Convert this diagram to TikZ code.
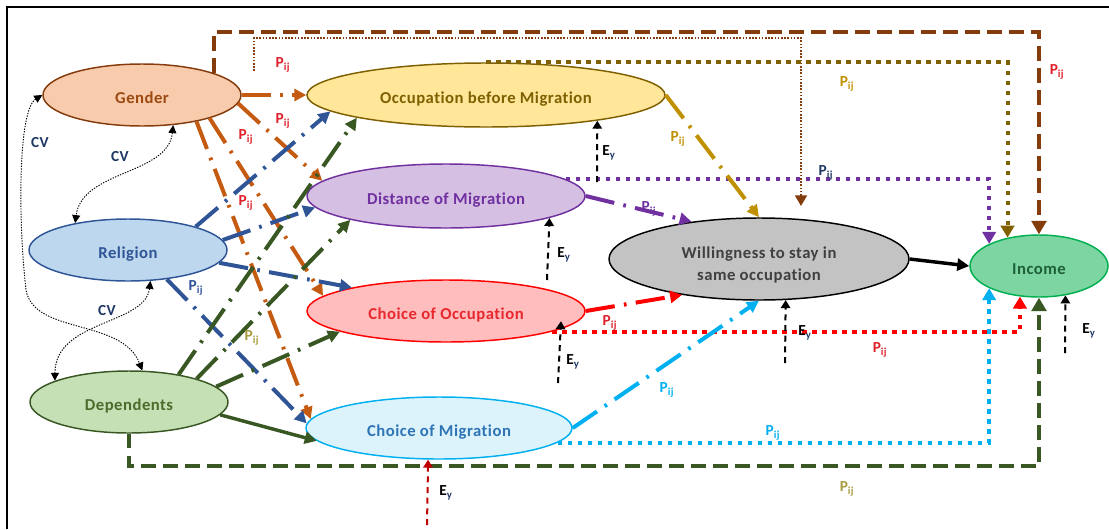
\documentclass[tikz,border=0pt]{standalone}
\usepackage{fontspec}
\setmainfont{Carlito}[LetterSpace=3,Ligatures=NoCommon]
\usetikzlibrary{arrows.meta,shapes.geometric}
\definecolor{gfill}{HTML}{F8CBAD}\definecolor{gdraw}{HTML}{843C0C}\definecolor{gtext}{HTML}{9C4A12}
\definecolor{cor}{HTML}{C55A11}
\definecolor{occfill}{HTML}{FFE699}\definecolor{occdraw}{HTML}{7F6000}
\definecolor{relfill}{HTML}{BDD7EE}\definecolor{relblue}{HTML}{2F5597}
\definecolor{distfill}{HTML}{D5C0E3}\definecolor{cpurple}{HTML}{7030A0}
\definecolor{depfill}{HTML}{C5E0B4}\definecolor{dgreen}{HTML}{385723}\definecolor{deptext}{HTML}{4E6B2E}
\definecolor{chofill}{HTML}{FFBDBD}\definecolor{cred}{HTML}{FF0000}\definecolor{chotext}{HTML}{E8282F}
\definecolor{cmfill}{HTML}{DDF3FC}\definecolor{ccyan}{HTML}{00B0F0}\definecolor{cmtext}{HTML}{2E75B6}
\definecolor{willfill}{HTML}{C3C3C3}\definecolor{willtext}{HTML}{404040}
\definecolor{incfill}{HTML}{7DD5A2}\definecolor{incdraw}{HTML}{00B050}\definecolor{inctext}{HTML}{1E5F3A}
\definecolor{cgold}{HTML}{BF9000}\definecolor{colive}{HTML}{806000}
\definecolor{plabred}{HTML}{E0202A}\definecolor{plabolive}{HTML}{A89A3C}\definecolor{navy}{HTML}{1F3864}
\definecolor{eyred}{HTML}{C00000}
\newcommand{\pij}{P\textsubscript{ij}}
\newcommand{\eyl}{E\textsubscript{\color{navy}y}}
\begin{document}
\begin{tikzpicture}[x=0.75pt,y=-0.75pt,
  font=\bfseries\fontsize{12.5}{14}\selectfont,
  ell/.style={ellipse,draw,line width=1.1pt,inner sep=0pt,text height=15.5pt,text depth=3pt},
  ldd/.style={line width=3pt,dash pattern=on 22pt off 7pt on 2pt off 7pt,-{Triangle[length=9pt,width=9pt]}},
  solidarrow/.style={line width=2.6pt,-{Triangle[length=9pt,width=9pt]}},
  dots/.style={line width=3pt,dash pattern=on 3.5pt off 4pt,-{Triangle[length=9pt,width=10pt]}},
  bigdash/.style={line width=3.6pt,dash pattern=on 11pt off 5.5pt,-{Triangle[length=10pt,width=11pt]}},
  thindot/.style={line width=1.3pt,dash pattern=on 1.2pt off 1.2pt,gdraw,-{Triangle[length=8pt,width=9pt]}},
  eyarrow/.style={line width=1.5pt,dash pattern=on 4.5pt off 3.5pt,-{Triangle[length=6pt,width=7pt]}},
  cv/.style={line width=0.7pt,dash pattern=on 1pt off 1pt,{Triangle[length=6pt,width=6pt]}-{Triangle[length=6pt,width=6pt]}},
  pl/.style={font=\bfseries\fontsize{11.5}{13}\selectfont,inner sep=0pt},
]
\useasboundingbox (0,0) rectangle (1109,529);
\draw[line width=2pt] (7,529) -- (7,7) -- (1109,7);

% nodes
\node[ell,fill=gfill,draw=gdraw,text=gtext,minimum width=148.5pt,minimum height=46.5pt] (gender) at (142,95) {Gender};
\node[ell,fill=relfill,draw=relblue,text=relblue,minimum width=148.5pt,minimum height=46.5pt] (rel) at (128,250) {Religion};
\node[ell,fill=depfill,draw=dgreen,text=deptext,minimum width=148.5pt,minimum height=46.5pt] (dep) at (129,402) {Dependents};
\node[ell,fill=occfill,draw=occdraw,text=occdraw,minimum width=268.5pt,minimum height=48pt] (occ) at (486,95) {Occupation before Migration};
\node[ell,fill=distfill,draw=cpurple,text=cpurple,minimum width=208.5pt,minimum height=48pt] (dist) at (446,196) {Distance of Migration};
\node[ell,fill=chofill,draw=cred,text=chotext,minimum width=208.5pt,minimum height=46.5pt] (chocc) at (446,311) {Choice of Occupation};
\node[ell,fill=cmfill,draw=ccyan,text=cmtext,minimum width=199.5pt,minimum height=46.5pt] (chmig) at (439,428) {Choice of Migration};
\node[ell,fill=willfill,draw=black,text=willtext,align=center,minimum width=225pt,minimum height=61.5pt,text height=35.5pt,text depth=3pt,font=\bfseries\fontsize{12.5}{17}\selectfont] (will) at (759,259) {Willingness to stay in\\same occupation};
\node[ell,fill=incfill,draw=incdraw,text=inctext,minimum width=103.5pt,minimum height=46.5pt] (income) at (1039,266) {Income};

% long connectors to Income / Willingness
\draw[bigdash,gdraw] (gender.17) -- ++(0,-41) -| (income.north);
\coordinate (gw) at (254,71);
\coordinate (wtop) at (801,206);
\draw[thindot] (gw) -- ++(0,-33) -| (wtop);
\draw[dots,colive] (occ.north) -| (income.138);
\draw[dots,cpurple] (dist.8) -| (income.156);
\draw[dots,cred] (chocc.-11) -| (income.238);
\draw[dots,ccyan] (chmig.-7) -| (income.204);
\draw[bigdash,dgreen,line width=3.2pt] (dep.south) -- ++(0,32) -| (income.south);

% Gender
\draw[ldd,cor] (gender.east) -- (occ.west);
\draw[ldd,cor] (gender.-5) -- (dist.173);
\draw[ldd,cor] (gender.-19) -- (chocc.173);
\draw[ldd,cor] (gender.-26) -- (chmig.176);
% Religion
\draw[ldd,relblue] (rel.19) -- (occ.186);
\draw[ldd,relblue] (rel.6) -- (dist.185);
\draw[ldd,relblue] (rel.-8) -- (chocc.166);
\draw[ldd,relblue] (rel.-37) -- (chmig.178);
% Dependents
\draw[ldd,dgreen] (dep.29) -- (occ.190);
\draw[ldd,dgreen] (dep.19) -- (dist.194);
\draw[ldd,dgreen] (dep.10) -- (chocc.191);
\draw[solidarrow,dgreen] (dep.-8) -- (chmig.186);
% into Willingness
\draw[ldd,cgold] (occ.east) -- (will.north);
\draw[ldd,cpurple] (dist.east) -- (will.151);
\draw[ldd,cred] (chocc.east) -- (will.205);
\draw[ldd,ccyan] (chmig.east) -- (will.south);
\draw[solidarrow,black] (will.east) -- (income.west);

% error terms
\coordinate (e1) at (597,182); \draw[eyarrow] (e1) -- (occ.-13);
\coordinate (e2) at (547,280); \draw[eyarrow] (e2) -- (dist.-12);
\coordinate (e3) at (558,383); \draw[eyarrow,shorten >=-6pt] (e3) -- (chocc.-9);
\coordinate (e4) at (785,363); \draw[eyarrow] (e4) -- (will.-57);
\coordinate (e5) at (1065,353); \draw[eyarrow] (e5) -- (income.-48);
\coordinate (e6) at (427,525); \draw[eyarrow,eyred] (e6) -- (chmig.251);

% covariances
\draw[cv] (gender.-44) .. controls (168,175) and (82,170) .. (rel.153);
\draw[cv] (rel.-54) .. controls (145,325) and (55,320) .. (dep.164);
\draw[cv] (gender.west) .. controls (18,110) and (18,220) .. (26,290) .. controls (34,335) and (122,318) .. (dep.67);

% labels
\node[pl,text=navy] (cv1) at (40,143) {CV};
\node[pl,text=navy] (cv2) at (120,157) {CV};
\node[pl,text=navy] (cv3) at (107,311) {CV};

\node[pl,text=plabred] (p1) at (283,65) {\pij};
\node[pl,text=plabred] (p2) at (283,121) {\pij};
\node[pl,text=plabred] (p3) at (246,137) {\pij};
\node[pl,text=plabred] (p4) at (246,203) {\pij};
\node[pl,text=relblue] (p5) at (196,288) {\pij};
\node[pl,text=plabolive] (p6) at (252,338) {\pij};
\node[pl,text=cgold] (p7) at (678,139) {\pij};
\node[pl,text=cpurple] (p8) at (649,209) {\pij};
\node[pl,text=navy] (p9) at (826,173) {\pij};
\node[pl,text=cgold] (p10) at (847,84) {\pij};
\node[pl,text=plabred] (p11) at (1057,72) {\pij};
\node[pl,text=plabred] (p12) at (610,323) {\pij};
\node[pl,text=ccyan] (p13) at (667,390) {\pij};
\node[pl,text=plabred] (p14) at (880,350) {\pij};
\node[pl,text=ccyan] (p15) at (773,433) {\pij};
\node[pl,text=plabolive] (p16) at (847,489) {\pij};

\node[pl] (ey1) at (609,153) {\eyl};
\node[pl] (ey2) at (564,255) {\eyl};
\node[pl] (ey3) at (573,362) {\eyl};
\node[pl] (ey4) at (805,333) {\eyl};
\node[pl] (ey5) at (1089,331) {\eyl};
\node[pl] (ey6) at (446,493) {\eyl};
\end{tikzpicture}
\end{document}
